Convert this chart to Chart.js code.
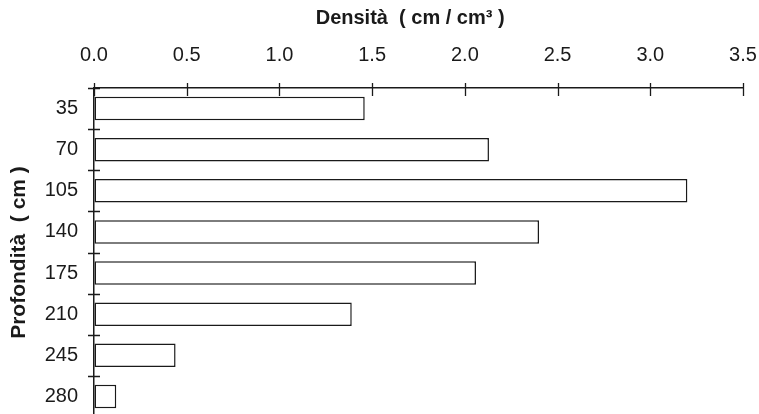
<!DOCTYPE html>
<html>
<head>
<meta charset="utf-8">
<script src="https://cdn.jsdelivr.net/npm/chart.js@4"></script>
<style>
  html, body { margin: 0; padding: 0; background: #fff; overflow: hidden; }
  canvas { display: block; }
</style>
</head>
<body>
<canvas id="c" width="759" height="417"></canvas>
<script>
// Root length density by soil depth
const depths = ['35', '70', '105', '140', '175', '210', '245', '280'];
const density = [1.46, 2.13, 3.20, 2.40, 2.06, 1.39, 0.44, 0.12];
const xTickValues = [0, 0.5, 1.0, 1.5, 2.0, 2.5, 3.0, 3.5];

const ink = '#1a1a1a';
const family = '"Liberation Sans", Arial, Helvetica, sans-serif';

// Tick marks that straddle the axis lines, as in classic plotting software
const crossTicks = {
  id: 'crossTicks',
  afterDraw(chart) {
    const { ctx, chartArea } = chart;
    const x = chart.scales.x, y = chart.scales.y;
    ctx.save();
    ctx.strokeStyle = ink;
    ctx.lineWidth = 1.3;
    ctx.beginPath();
    x.ticks.forEach((t, i) => {
      const px = Math.round(x.getPixelForTick(i)) + 0.5;
      ctx.moveTo(px, chartArea.top - 5);
      ctx.lineTo(px, chartArea.top + 8);
    });
    for (let i = 0; i <= depths.length; i++) {
      const py = Math.round(y.getPixelForValue(i - 0.5)) + 0.5;
      ctx.moveTo(chartArea.left - 6, py);
      ctx.lineTo(chartArea.left + 6, py);
    }
    ctx.stroke();
    ctx.restore();
  }
};

new Chart(document.getElementById('c'), {
  type: 'bar',
  data: {
    labels: depths,
    datasets: [{
      data: density,
      backgroundColor: '#ffffff',
      borderColor: ink,
      borderWidth: 1.5,
      borderSkipped: false,
      barPercentage: 0.57,
      categoryPercentage: 1.0
    }]
  },
  options: {
    indexAxis: 'y',
    responsive: false,
    maintainAspectRatio: false,
    animation: false,
    devicePixelRatio: 1,
    layout: { padding: { left: 0, right: 16, top: 0, bottom: 0 } },
    plugins: {
      legend: { display: false },
      tooltip: { enabled: false }
    },
    scales: {
      x: {
        type: 'linear',
        position: 'top',
        min: 0,
        max: 3.5,
        afterBuildTicks(scale) {
          scale.ticks = xTickValues.map(v => ({ value: v }));
        },
        afterFit(scale) {
          scale.height = 88;
          scale.paddingLeft = 0;
          scale.paddingRight = 0;
        },
        grid: { display: true, drawOnChartArea: false, drawTicks: false },
        border: { display: true, color: ink, width: 1.5 },
        ticks: {
          color: ink,
          padding: 21,
          font: { family, size: 20 },
          callback: v => Number(v).toFixed(1)
        },
        title: {
          display: true,
          text: 'Densità  ( cm / cm³ )   ',
          color: ink,
          font: { family, size: 20, weight: 'bold' },
          padding: { top: 6, bottom: 0 }
        }
      },
      y: {
        type: 'category',
        position: 'left',
        offset: true,
        afterFit(scale) {
          scale.width = 94;
          scale.paddingTop = 0;
          scale.paddingBottom = 0;
        },
        grid: { display: true, drawOnChartArea: false, drawTicks: false, offset: true },
        border: { display: true, color: ink, width: 1.5 },
        ticks: {
          color: ink,
          padding: 16,
          font: { family, size: 20 }
        },
        title: {
          display: true,
          text: 'Profondità  ( cm )',
          color: ink,
          font: { family, size: 21, weight: 'bold' },
          padding: { top: 7, bottom: 0 }
        }
      }
    }
  },
  plugins: [crossTicks]
});
</script>
</body>
</html>
